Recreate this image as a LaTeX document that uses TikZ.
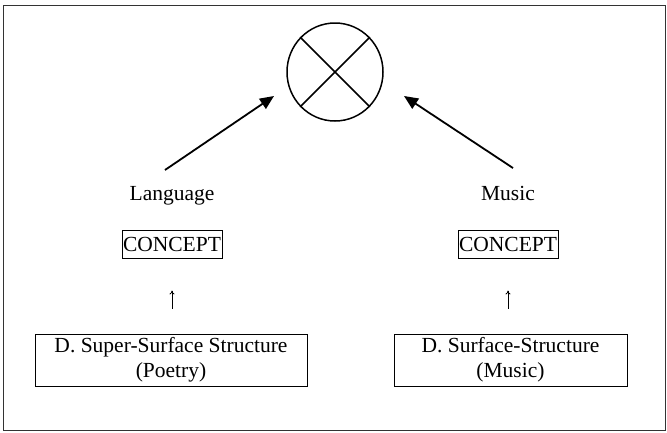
\documentclass[tikz,border=0pt]{standalone}
\usepackage{fontspec}
\setmainfont{Liberation Serif}
\usetikzlibrary{arrows.meta,shapes.geometric}
\begin{document}
\begin{tikzpicture}[x=1pt,y=-1pt,
  txt/.style={font=\fontsize{21.5}{25}\selectfont, inner sep=0pt},
  conceptbox/.style={txt, draw, line width=1pt, minimum width=100pt, minimum height=28pt, text height=14.5pt, text depth=0pt},
  structbox/.style={txt, draw, line width=1pt, minimum height=52pt, align=center},
  bigarrow/.style={line width=1.8pt, -{Triangle[length=14pt,width=12pt]}},
  smallarrow/.style={line width=0.8pt, -{To[length=4pt,width=5pt]}}
]
\useasboundingbox (0,0) rectangle (667,432);
\node[draw=black!80, line width=1pt, minimum width=662pt, minimum height=425pt, inner sep=0pt] (frame) at (334.5,218) {};

\node[draw, line width=1.5pt, ellipse, minimum width=96pt, minimum height=98pt, inner sep=0pt] (circ) at (335,72) {};
\draw[line width=1.5pt] (circ.45) -- (circ.225) (circ.135) -- (circ.315);

\node[txt, anchor=base] (lang) at (172,200) {Language};
\node[txt, anchor=base] (music) at (508,200) {Music};

\node[conceptbox] (c1) at (172,244) {CONCEPT};
\node[conceptbox] (c2) at (508,244) {CONCEPT};

\node[structbox, minimum width=272pt] (s1) at (171,360) {D. Super-Surface Structure\\(Poetry)};
\node[structbox, minimum width=233pt] (s2) at (510.5,360) {D. Surface-Structure\\(Music)};

\coordinate (lt) at (165,170);
\coordinate (lh) at (274,96);
\coordinate (rt) at (513,168);
\coordinate (rh) at (404,96);
\draw[bigarrow] (lt) -- (lh);
\draw[bigarrow] (rt) -- (rh);

\draw[smallarrow, shorten <=25pt, shorten >=32pt] (s1.north -| c1.south) -- (c1.south);
\draw[smallarrow, shorten <=25pt, shorten >=32pt] (s2.north -| c2.south) -- (c2.south);
\end{tikzpicture}
\end{document}
